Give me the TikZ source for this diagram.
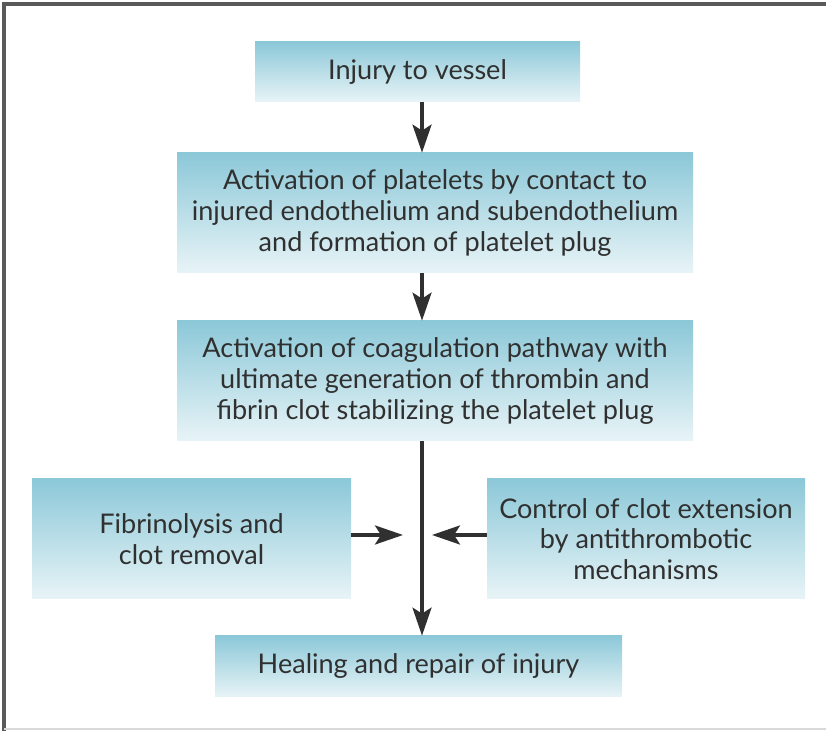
\documentclass[tikz,border=0pt]{standalone}
\usepackage{fontspec}
\setmainfont{Lato}
\usetikzlibrary{arrows.meta,positioning,calc}
\definecolor{cBoxTop}{HTML}{8CC8D8}
\definecolor{cBoxBot}{HTML}{E8F4F7}
\definecolor{cInk}{HTML}{303030}
\definecolor{cFrame}{HTML}{5A5A5A}

\begin{document}
\begin{tikzpicture}[
    font=\fontsize{15.4}{17.5}\selectfont,
    >={Stealth[length=5.6mm,width=3.8mm,inset=1.2mm]},
    every node/.style={align=center, text=cInk},
    stage/.style={top color=cBoxTop, bottom color=cBoxBot, draw=none,
                  inner sep=2pt},
    flow/.style={->, line width=2pt, draw=cInk},
]
\useasboundingbox (0,0) rectangle (16.52,14.62);

% ---- frame ----
\draw[cFrame, line width=1.8pt] (0.08,0) -- (0.08,14.54) -- (16.52,14.54);
\draw[black!15, line width=1pt] (0.08,0.04) -- (16.52,0.04);

% ---- main column ----
\node[stage, minimum width=65mm, minimum height=12mm] (inj) at (8.35,13.18)
      {Injury to vessel};

\node[stage, minimum width=103.2mm, minimum height=24mm] (plt) at (8.70,10.36)
      {Activation of platelets by contact to\\
       injured endothelium and subendothelium\\
       and formation of platelet plug};

\node[stage, minimum width=103.2mm, minimum height=24mm] (coag) at (8.70,7.00)
      {Activation of coagulation pathway with\\
       ultimate generation of thrombin and\\
       fibrin clot stabilizing the platelet plug};

% ---- side influences ----
\node[stage, minimum width=63.8mm, minimum height=24mm] (fib) at (3.83,3.84)
      {Fibrinolysis and\\clot removal};

\node[stage, minimum width=63.6mm, minimum height=24mm] (ctl) at (12.92,3.84)
      {Control of clot extension\\by antithrombotic\\mechanisms};

\node[stage, minimum width=81.4mm, minimum height=12.2mm] (heal) at (8.37,1.29)
      {Healing and repair of injury};

% ---- arrows ----
\coordinate (spine) at (8.44,0);
\coordinate (fibtip) at (8.06,3.92);
\coordinate (ctltip) at (8.64,3.92);

\draw[flow] (inj.south -| spine) -- (plt.north -| spine);
\draw[flow] (plt.south -| spine) -- (coag.north -| spine);
\draw[flow] (coag.south -| spine) -- (heal.north -| spine);
\draw[flow] (fib.east |- fibtip) -- (fibtip);
\draw[flow] (ctl.west |- ctltip) -- (ctltip);

\end{tikzpicture}
\end{document}
